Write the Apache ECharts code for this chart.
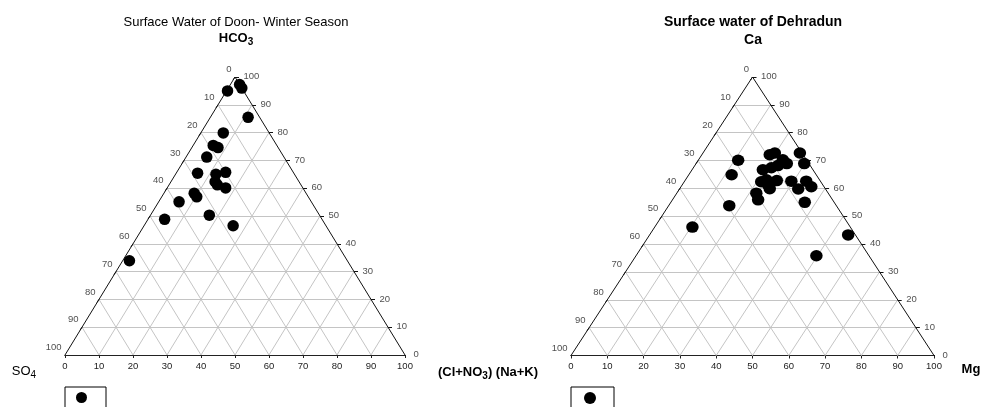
<!DOCTYPE html>
<html>
<head>
<meta charset="utf-8">
<script src="https://cdn.jsdelivr.net/npm/echarts@6/dist/echarts.min.js"></script>
<style>html,body{margin:0;padding:0;background:#fff;}#c{width:982px;height:407px;}</style>
</head>
<body>
<div id="c"></div>
<script>
// ---- data ----
const tickValues = [0, 10, 20, 30, 40, 50, 60, 70, 80, 90, 100];

// Surface Water of Doon - Winter Season (anions, %)
const doonHCO3 = [95.0, 97.3, 96.0, 85.5, 79.9, 75.4, 74.6, 71.2, 65.4, 65.0, 65.7, 62.3, 61.2, 60.1, 58.2, 56.9, 55.1, 50.3, 48.8, 46.5, 33.9];
const doonClNO3 = [0.3, 2.7, 4.0, 11.1, 6.6, 5.9, 7.7, 6.1, 6.3, 11.9, 14.4, 13.0, 14.2, 17.2, 8.9, 10.3, 6.0, 17.3, 4.9, 26.2, 2.0];
const doonSO4 = [4.7, 0.0, 0.0, 3.4, 13.5, 18.7, 17.7, 22.7, 28.3, 23.1, 19.9, 24.7, 24.6, 22.7, 32.9, 32.8, 38.9, 32.4, 46.3, 27.3, 64.1];

// Surface water of Dehradun (cations, %)
const dehCa = [70.1, 64.9, 53.8, 46.1, 72.1, 72.7, 70.3, 68.9, 72.7, 68.9, 66.7, 67.4, 68.2, 63.1, 62.4, 62.8, 62.6, 62.6, 60.6, 59.8, 59.9, 58.3, 55.9, 55.0, 43.3, 35.8, 61.3];
const dehMg = [11.0, 11.8, 16.7, 10.4, 18.7, 19.8, 23.2, 25.0, 26.7, 29.8, 19.5, 21.5, 22.9, 22.3, 21.2, 25.3, 29.4, 33.5, 35.9, 32.7, 24.8, 21.9, 23.6, 36.9, 54.7, 49.7, 23.6];
const dehNaK = [18.9, 23.3, 29.5, 43.5, 9.2, 7.5, 6.5, 6.1, 0.6, 1.3, 13.8, 11.1, 8.9, 14.6, 16.4, 11.9, 8.0, 3.9, 3.5, 7.5, 15.3, 19.8, 20.5, 8.1, 2.0, 14.5, 15.1];

// ---- helpers ----
const FONT = 'Liberation Sans, Arial, Helvetica, sans-serif';
const LABEL_COLOR = '#222';
// ternary (top, right, left) -> cartesian in [0..100] units
function tern(top, right, left) {
  const s = top + right + left;
  const a = top / s * 100, c = right / s * 100;
  return [c + a / 2, a];
}

const panels = [
  { name: 'Doon', top: doonHCO3, right: doonClNO3, left: doonSO4,
    grid: { left: 65, top: 77, width: 340, height: 278 }, size: [11.5, 11.5] },
  { name: 'Dehradun', top: dehCa, right: dehMg, left: dehNaK,
    grid: { left: 571, top: 77, width: 363, height: 278.5 }, size: [12.5, 11.5] }
];

const grids = [], xAxes = [], yAxes = [], series = [];

panels.forEach((p, i) => {
  grids.push(Object.assign({ containLabel: false }, p.grid));
  xAxes.push({
    gridIndex: i, type: 'value', min: 0, max: 100, interval: 10,
    axisLine: { show: true, lineStyle: { color: '#222', width: 1 } },
    axisTick: { show: true, length: 3, lineStyle: { color: '#222' } },
    axisLabel: { fontSize: 9.5, color: LABEL_COLOR, margin: 6, fontFamily: FONT },
    splitLine: { show: false }
  });
  yAxes.push({ gridIndex: i, type: 'value', min: 0, max: 100, show: false });

  const ux = 100 / p.grid.width, uy = 100 / p.grid.height;

  // grid lines
  const gl = [];
  tickValues.slice(1, -1).forEach(k => {
    gl.push({ coords: [tern(k, 0, 100 - k), tern(k, 100 - k, 0)] });   // top const
    gl.push({ coords: [tern(0, k, 100 - k), tern(100 - k, k, 0)] });   // right const
    gl.push({ coords: [tern(0, 100 - k, k), tern(100 - k, 0, k)] });   // left const
  });
  series.push({
    type: 'lines', coordinateSystem: 'cartesian2d', xAxisIndex: i, yAxisIndex: i,
    silent: true, z: 1, data: gl,
    lineStyle: { color: '#c4c4c4', width: 1, opacity: 1, curveness: 0 }
  });

  // triangle edges + ticks
  const ed = [
    { coords: [tern(0, 0, 100), tern(100, 0, 0)] },
    { coords: [tern(100, 0, 0), tern(0, 100, 0)] }
  ];
  tickValues.forEach(k => {
    const L = tern(100 - k, 0, k);
    ed.push({ coords: [L, [L[0] - 2 * ux, L[1] - 3 * uy]] });
    const R = tern(k, 100 - k, 0);
    ed.push({ coords: [R, [R[0] + 4 * ux, R[1]]] });
  });
  series.push({
    type: 'lines', coordinateSystem: 'cartesian2d', xAxisIndex: i, yAxisIndex: i,
    silent: true, z: 3, data: ed,
    lineStyle: { color: '#111', width: 1, opacity: 1, curveness: 0 }
  });

  // left-side labels
  series.push({
    type: 'scatter', xAxisIndex: i, yAxisIndex: i, silent: true, z: 4,
    symbolSize: 1, itemStyle: { color: 'rgba(0,0,0,0)' },
    data: tickValues.map(k => ({ value: tern(100 - k, 0, k), name: String(k) })),
    label: { show: true, formatter: d => d.name, position: [-3, -7], align: 'right', verticalAlign: 'middle',
             fontSize: 9.5, color: LABEL_COLOR, fontFamily: FONT }
  });
  // right-side labels
  series.push({
    type: 'scatter', xAxisIndex: i, yAxisIndex: i, silent: true, z: 4,
    symbolSize: 1, itemStyle: { color: 'rgba(0,0,0,0)' },
    data: tickValues.map(k => ({ value: tern(k, 100 - k, 0), name: String(k) })),
    label: { show: true, formatter: d => d.name, position: [9, 0], align: 'left', verticalAlign: 'middle',
             fontSize: 9.5, color: LABEL_COLOR, fontFamily: FONT }
  });

  // samples
  series.push({
    name: p.name, type: 'scatter', xAxisIndex: i, yAxisIndex: i, z: 5,
    symbol: 'circle', symbolSize: p.size,
    itemStyle: { color: '#000', opacity: 1 },
    data: p.top.map((t, j) => tern(t, p.right[j], p.left[j]))
  });
});

const rich = {
  n: { fontSize: 13, fontFamily: FONT, color: '#000', lineHeight: 18 },
  b: { fontSize: 13, fontFamily: FONT, fontWeight: 'bold', color: '#000', lineHeight: 18 },
  s: { fontSize: 10, fontFamily: FONT, color: '#000', verticalAlign: 'bottom' },
  sb: { fontSize: 10, fontFamily: FONT, fontWeight: 'bold', color: '#000', verticalAlign: 'bottom' }
};
function txt(x, y, text, extra) {
  return { type: 'text', x: x, y: y, silent: true,
    style: Object.assign({ text: text, align: 'center', verticalAlign: 'middle', fill: '#000',
      font: '13px ' + FONT, rich: rich }, extra || {}) };
}

const option = {
  backgroundColor: '#fff',
  animation: false,
  grid: grids, xAxis: xAxes, yAxis: yAxes, series: series,
  legend: [
    { data: ['Doon'], left: 65, top: 387, orient: 'horizontal', itemWidth: 11, itemHeight: 11, itemGap: 0,
      icon: 'circle', formatter: () => '', textStyle: { fontSize: 8 },
      padding: [5, 19, 20, 11], borderColor: '#000', borderWidth: 1, selectedMode: false },
    { data: ['Dehradun'], left: 571, top: 387, orient: 'horizontal', itemWidth: 12, itemHeight: 12, itemGap: 0,
      icon: 'circle', formatter: () => '', textStyle: { fontSize: 8 },
      padding: [5, 18, 20, 13], borderColor: '#000', borderWidth: 1, selectedMode: false }
  ],
  graphic: [
    txt(236, 22, 'Surface Water of Doon- Winter Season', { font: '13px ' + FONT }),
    txt(236, 38, '{b|HCO}{sb|3}'),
    txt(753, 22, 'Surface water of Dehradun', { font: 'bold 14px ' + FONT }),
    txt(753, 40, 'Ca', { font: 'bold 14px ' + FONT }),
    txt(24, 371, '{n|SO}{s|4}'),
    txt(488, 372, '{b|(Cl+NO}{sb|3}{b|) (Na+K)}'),
    txt(971, 369, 'Mg', { font: 'bold 13px ' + FONT })
  ]
};

const chart = echarts.init(document.getElementById('c'));
chart.setOption(option);
</script>
</body>
</html>
